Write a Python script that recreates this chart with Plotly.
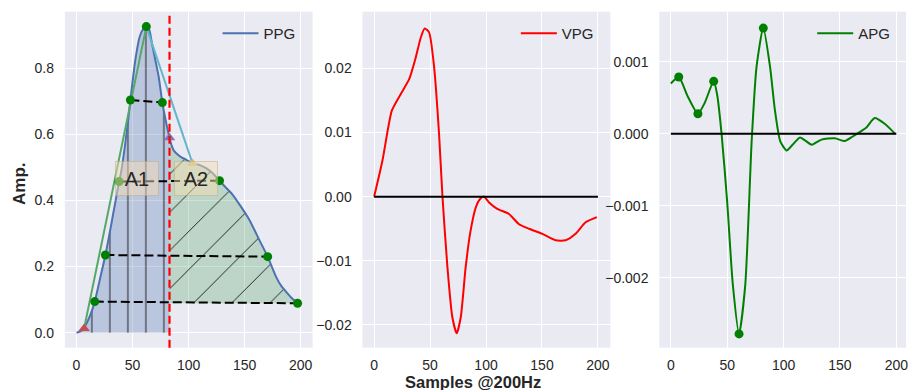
import numpy as np
import plotly.graph_objects as go

# ---------------- data ----------------
ppg_x = [0, 4.5, 8.9, 13, 16.3, 20.7, 25.8, 31.2, 38, 40.1, 45.4, 48.1, 52.5, 56.4, 59.5,
         62.3, 65, 67.3, 70, 73.3, 76.6, 80, 83, 85, 87, 89, 93, 98, 103.5, 110, 116, 122,
         127.6, 133, 139.4, 146, 154.3, 163.2, 170.6, 178.1, 183, 187, 192, 197.3]
ppg_y = [0, 0.006, 0.028, 0.06, 0.094, 0.159, 0.235, 0.331, 0.457, 0.492, 0.623, 0.704, 0.825,
         0.895, 0.918, 0.926, 0.915, 0.876, 0.83, 0.775, 0.696, 0.635, 0.59, 0.565, 0.55, 0.543,
         0.532, 0.523, 0.512, 0.507, 0.497, 0.481, 0.46, 0.44, 0.417, 0.385, 0.341, 0.28, 0.23,
         0.169, 0.14, 0.124, 0.105, 0.089]

foot_x, foot_y = [6.8], [0.013]
sys_peak_x, sys_peak_y = [62.3], [0.926]
notch_x, notch_y = [83], [0.59]
dia_peak_x, dia_peak_y = [103.5], [0.512]

# width pairs (left point, right point) at several amplitude levels
width_left_x = [16.3, 25.8, 38.0, 48.1]
width_left_y = [0.094, 0.235, 0.457, 0.704]
width_right_x = [197.3, 170.6, 127.6, 76.6]
width_right_y = [0.089, 0.230, 0.460, 0.696]

vpg_x = [0, 7.4, 15.8, 23.8, 31.3, 37.2, 41.7, 45.2, 49.1, 53.6, 58, 61, 65.5, 69.9, 73.8,
         77.4, 81.8, 86, 90.8, 94.5, 98.2, 102.7, 110, 120.5, 129.5, 138.4, 150.3, 162.2,
         171.1, 180, 189, 199]
vpg_y = [0, 0.0056, 0.0134, 0.016, 0.0183, 0.0217, 0.0248, 0.0262, 0.0256, 0.0202, 0.0098,
         0.0002, -0.011, -0.0188, -0.0213, -0.0188, -0.011, -0.0055, -0.0017, -0.0004, 0.0,
         -0.0009, -0.0019, -0.0027, -0.0043, -0.005, -0.0058, -0.0068, -0.0068, -0.0058,
         -0.004, -0.0032]

apg_x = [0, 7, 15, 24, 30, 38, 41, 45, 50, 55, 60.5, 66, 71.7, 76, 82, 88, 92.3, 97, 102.7,
         108.6, 114.5, 119, 125, 133.6, 145.4, 154.3, 161, 166, 173.5, 180.8, 189.7, 199]
apg_y = [0.0007, 0.00079, 0.00052, 0.00028, 0.00043, 0.00073, 0.00055, 0.0, -0.00095,
         -0.0021, -0.00278, -0.0021, -0.0001, 0.00093, 0.00147, 0.00093, 0.00033, -0.0001,
         -0.00023, -0.00014, -0.00005, -0.00009, -0.00015, -0.00008, -0.00006, -0.0001,
         -0.00004, 0.00001, 0.00009, 0.00022, 0.00014, 0.0]
apg_pts_x = [7, 24, 38, 60.5, 82]
apg_pts_y = [0.00079, 0.00028, 0.00073, -0.00278, 0.00147]

area_labels = ["A1", "A2"]
area_label_x = [54.3, 106.4]
area_label_y = [0.467, 0.467]

# ---------------- styling ----------------
BG = "#EAEAF2"
TXT = "#262626"
FONT = "Liberation Sans, Arial, sans-serif"
BLUE = "#4C72B0"
SNS_GREEN = "#55A868"
CYAN = "#64B5CD"
SNS_RED = "#C44E52"
PURPLE = "#8172B2"
YELLOW = "#CCB974"

W, H = 908, 390
def px_x(p):
    return p / W
def px_y(p):
    return 1 - p / H

ytop, ybot = px_y(11.7), px_y(347.7)

px_ = np.array(ppg_x)
py_ = np.array(ppg_y)
cut = notch_x[0]
m1 = px_ <= cut
m2 = px_ >= cut
base = ppg_y[-1]

fig = go.Figure()

# A1 fill (vertical hatch)
fig.add_trace(go.Scatter(
    x=px_[m1], y=py_[m1], mode="lines", line=dict(width=0, shape="spline", smoothing=0.6),
    fill="tozeroy", fillcolor="rgba(76,114,176,0.3)",
    fillpattern=dict(shape="|", size=18, solidity=0.05, fgcolor="black", fgopacity=0.9,
                     bgcolor="rgba(76,114,176,0.3)"),
    showlegend=False, hoverinfo="skip", xaxis="x", yaxis="y"))
# A2 baseline + fill (diagonal hatch)
fig.add_trace(go.Scatter(
    x=[cut, ppg_x[-1]], y=[base, base], mode="lines", line=dict(width=0),
    showlegend=False, hoverinfo="skip", xaxis="x", yaxis="y"))
fig.add_trace(go.Scatter(
    x=px_[m2], y=py_[m2], mode="lines", line=dict(width=0, shape="spline", smoothing=0.6),
    fill="tonexty", fillcolor="rgba(85,168,104,0.3)",
    fillpattern=dict(shape="/", size=27, solidity=0.03, fgcolor="black", fgopacity=1,
                     bgcolor="rgba(85,168,104,0.3)"),
    showlegend=False, hoverinfo="skip", xaxis="x", yaxis="y"))

# PPG line
fig.add_trace(go.Scatter(
    x=ppg_x, y=ppg_y, mode="lines", name="PPG",
    line=dict(color=BLUE, width=2, shape="spline", smoothing=0.6),
    legend="legend", xaxis="x", yaxis="y"))
# rising edge line and descending line
fig.add_trace(go.Scatter(
    x=foot_x + sys_peak_x, y=foot_y + sys_peak_y, mode="lines",
    line=dict(color=SNS_GREEN, width=2), showlegend=False, xaxis="x", yaxis="y"))
fig.add_trace(go.Scatter(
    x=sys_peak_x + dia_peak_x, y=sys_peak_y + dia_peak_y, mode="lines",
    line=dict(color=CYAN, width=2), showlegend=False, xaxis="x", yaxis="y"))

# dashed width lines
wx, wy = [], []
for lx, ly, rx, ry in zip(width_left_x, width_left_y, width_right_x, width_right_y):
    wx += [lx, rx, None]
    wy += [ly, ry, None]
fig.add_trace(go.Scatter(
    x=wx, y=wy, mode="lines", line=dict(color="black", width=2, dash="9px,4px"),
    showlegend=False, xaxis="x", yaxis="y"))

# green dots
fig.add_trace(go.Scatter(
    x=width_left_x + width_right_x + sys_peak_x, y=width_left_y + width_right_y + sys_peak_y,
    mode="markers", marker=dict(color="green", size=9), showlegend=False,
    xaxis="x", yaxis="y"))
# triangles
for tx, ty, c in [(foot_x, foot_y, SNS_RED), (notch_x, notch_y, PURPLE),
                  (dia_peak_x, dia_peak_y, YELLOW)]:
    fig.add_trace(go.Scatter(
        x=tx, y=ty, mode="markers", marker=dict(color=c, size=10, symbol="triangle-up"),
        showlegend=False, xaxis="x", yaxis="y"))

# VPG
fig.add_trace(go.Scatter(
    x=vpg_x, y=vpg_y, mode="lines", name="VPG",
    line=dict(color="red", width=2, shape="spline", smoothing=0.6),
    legend="legend2", xaxis="x2", yaxis="y2"))
fig.add_trace(go.Scatter(
    x=[vpg_x[0], 200], y=[0, 0], mode="lines", line=dict(color="black", width=2),
    showlegend=False, xaxis="x2", yaxis="y2"))

# APG
fig.add_trace(go.Scatter(
    x=apg_x, y=apg_y, mode="lines", name="APG",
    line=dict(color="green", width=2, shape="spline", smoothing=0.6),
    legend="legend3", xaxis="x3", yaxis="y3"))
fig.add_trace(go.Scatter(
    x=[apg_x[0], 200], y=[0, 0], mode="lines", line=dict(color="black", width=2),
    showlegend=False, xaxis="x3", yaxis="y3"))
fig.add_trace(go.Scatter(
    x=apg_pts_x, y=apg_pts_y, mode="markers", marker=dict(color="green", size=9),
    showlegend=False, xaxis="x3", yaxis="y3"))

def xax(dom, rng, anchor):
    return dict(domain=dom, range=rng, anchor=anchor, tickvals=[0, 50, 100, 150, 200],
                showgrid=True, gridcolor="white", gridwidth=1.2, zeroline=False,
                showline=False, ticks="outside", ticklen=4, tickcolor="rgba(0,0,0,0)",
                ticklabeloverflow="allow",
                tickfont=dict(size=14, color=TXT, family=FONT))

def yax(rng, anchor, dtick, fmt):
    return dict(domain=[ybot, ytop], range=rng, anchor=anchor, dtick=dtick, tick0=0,
                tickformat=fmt, showgrid=True, gridcolor="white", gridwidth=1.2,
                zeroline=False, showline=False, ticks="outside", ticklen=7,
                tickcolor="rgba(0,0,0,0)", tickfont=dict(size=14, color=TXT, family=FONT))

legend_common = dict(bgcolor="rgba(0,0,0,0)", font=dict(size=15, color=TXT, family=FONT),
                     xanchor="left", yanchor="top", itemwidth=36, tracegroupgap=0)

fig.update_layout(
    width=W, height=H, margin=dict(l=0, r=0, t=0, b=0),
    paper_bgcolor="white", plot_bgcolor=BG,
    font=dict(family=FONT, color=TXT),
    xaxis=xax([px_x(65), px_x(313.3)], [-10.4, 210.7], "y"),
    yaxis=yax([-0.0454, 0.971], "x", 0.2, ".1f"),
    xaxis2=xax([px_x(363.3), px_x(611.7)], [-10.4, 211.1], "y2"),
    yaxis2=yax([-0.02354, 0.02882], "x2", 0.01, ".2f"),
    xaxis3=xax([px_x(660.7), 1.0], [-10.3, 208.6], "y3"),
    yaxis3=yax([-0.002972, 0.001698], "x3", 0.001, ".3f"),
    legend=dict(x=px_x(218), y=px_y(17), **legend_common),
    legend2=dict(x=px_x(517), y=px_y(17), **legend_common),
    legend3=dict(x=px_x(814), y=px_y(17), **legend_common),
    shapes=[dict(type="line", xref="x", yref="y domain", x0=cut, x1=cut, y0=0, y1=1,
                 line=dict(color="red", width=2.2, dash="8px,4px"))],
    showlegend=True,
)

for t, ax_, ay_ in zip(area_labels, area_label_x, area_label_y):
    fig.add_annotation(x=ax_, y=ay_, xref="x", yref="y", text=t, showarrow=False,
                       font=dict(size=20, color=TXT, family=FONT),
                       bgcolor="rgba(245,222,179,0.5)", bordercolor="rgba(190,170,130,0.5)",
                       borderwidth=1, borderpad=1, width=40, height=31)

fig.add_annotation(x=px_x(19), y=px_y(183), xref="paper", yref="paper", text="<b>Amp.</b>",
                   textangle=-90, showarrow=False, xanchor="center", yanchor="middle",
                   font=dict(size=17, color=TXT, family=FONT))
fig.add_annotation(x=px_x(474), y=px_y(382), xref="paper", yref="paper",
                   text="<b>Samples @200Hz</b>", showarrow=False,
                   xanchor="center", yanchor="middle",
                   font=dict(size=16.5, color=TXT, family=FONT))

fig.write_html("out.html")
